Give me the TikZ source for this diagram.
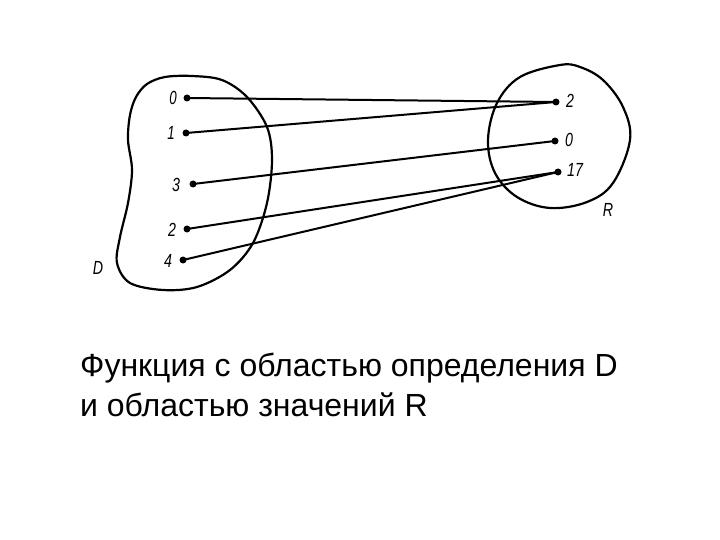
\documentclass[tikz,border=0pt]{standalone}
\usepackage{fontspec}
\setmainfont{Liberation Sans}
\begin{document}
\begin{tikzpicture}[x=1pt,y=-1pt,
  blob/.style={draw=black,line width=2.2pt,line join=round},
  link/.style={draw=black,line width=2pt},
  pt/.style={circle,fill=black,inner sep=0pt,minimum size=7pt},
  lbl/.style={font=\fontsize{19}{19}\selectfont\itshape,inner sep=0pt},
  captext/.style={font=\fontsize{32}{40}\selectfont,inner sep=0pt,align=left,anchor=north west}]
\useasboundingbox (0,0) rectangle (720,540);
% D blob
\draw[blob] plot[smooth cycle,tension=0.55] coordinates {
 (192,76) (165,77) (147,84) (136,97) (130,115) (128,140) (132,170) (128,203) (120,237)
 (117,263) (130,283) (163,290) (197,287) (230,270) (253,243) (267,203)
 (272,160) (267,127) (247,97) (222,80)};
% R blob
\draw[blob] plot[smooth cycle,tension=0.6] coordinates {
 (560,65) (520,77) (497,103) (488,140) (495,173) (517,197) (550,208)
 (587,202) (613,183) (630,140) (623,107) (603,80) (580,67)};
% domain points
\node[pt] (d0) at (187,98) {};
\node[pt] (d1) at (186,133) {};
\node[pt] (d3) at (193,184) {};
\node[pt] (d2) at (187,229) {};
\node[pt] (d4) at (183,260) {};
\node[lbl] (ld0) at (173,98) {\scalebox{0.7}[1]{0}};
\node[lbl] (ld1) at (171,133) {\scalebox{0.7}[1]{1}};
\node[lbl] (ld3) at (176,185) {\scalebox{0.75}[1]{3}};
\node[lbl] (ld2) at (172,230) {\scalebox{0.75}[1]{2}};
\node[lbl] (ld4) at (168,261) {\scalebox{0.75}[1]{4}};
\node[lbl] (lD) at (98,268) {\scalebox{0.75}[1]{D}};
% range points
\node[pt] (r2) at (556,102) {};
\node[pt] (r0) at (555,141) {};
\node[pt] (r17) at (558,172) {};
\node[lbl] (lr2) at (570,101) {\scalebox{0.75}[1]{2}};
\node[lbl] (lr0) at (569,140) {\scalebox{0.75}[1]{0}};
\node[lbl] (lr17) at (575,170) {\scalebox{0.75}[1]{17}};
\node[lbl] (lR) at (608,210) {\scalebox{0.75}[1]{R}};
% mapping
\draw[link] (d0.center) -- (r2.center);
\draw[link] (d1.center) -- (r2.center);
\draw[link] (d3.center) -- (r0.center);
\draw[link] (d2.center) -- (r17.center);
\draw[link] (d4.center) -- (r17.center);
% caption
\node[captext] (caption) at (80,353) {Функция с областью определения D\\и областью значений R};
\end{tikzpicture}
\end{document}
